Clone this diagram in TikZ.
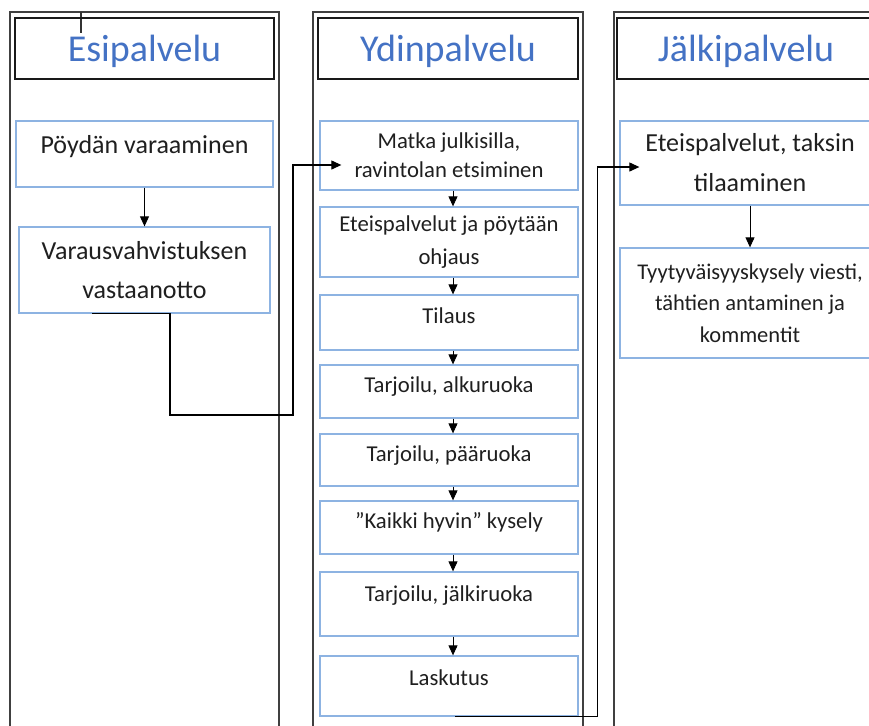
\documentclass[tikz,border=0pt]{standalone}
\usepackage{fontspec}
\setmainfont{Carlito}
\usepackage{xcolor}
\usepackage{tikz}
\usetikzlibrary{positioning, arrows.meta}
\definecolor{otsikkosini}{RGB}{68,114,196}
\definecolor{reunasini}{RGB}{141,179,226}

\begin{document}
\begin{tikzpicture}[
        x=1pt, y=-1pt,
        kehys/.style={draw=black!75, line width=1.6pt},
        otsikko/.style={
                rectangle, draw=black!90, line width=1.2pt,
                minimum height=61pt, inner sep=0pt,
                text=otsikkosini, font=\fontsize{38}{46}\selectfont,
                text height=28.5pt, text depth=2pt
            },
        laatikko/.style={
                rectangle, draw=reunasini, line width=1.3pt,
                align=center, inner sep=0pt,
                text=black!88, font=\fontsize{22.7}{29}\selectfont
            },
        iso/.style={font=\fontsize{26}{39}\selectfont},
        ylos/.style={text height=16pt, text depth=#1}, % teksti laatikon yläosaan
        nuoli/.style={-{Triangle[length=10pt,width=9pt]}, line width=0.9pt}
    ]
    \useasboundingbox (0,0) rectangle (869,725);
    \clip (0,0) rectangle (869,725);

    \draw[kehys] (10,730) |- (279,12) -- (279,730);
    \draw[kehys] (313,730) |- (583,12) -- (583,730);
    \draw[kehys] (614,730) |- (880,12);
    \draw[line width=1.2pt, black!80] (81,12) -- (81,33);

    \node[otsikko, minimum width=259pt] (esi) at (144.5,48.5) {Esipalvelu};
    \node[otsikko, minimum width=260pt] (ydin) at (448,48.5) {Ydinpalvelu};
    \node[otsikko, minimum width=258pt] (jalki) at (746,48.5) {Jälkipalvelu};

    \node[laatikko, iso, ylos=17.4pt, minimum width=257pt, minimum height=66pt] (p1) at (144.5,154) {Pöydän varaaminen};
    \node[laatikko, iso, minimum width=251pt, minimum height=86pt] (p2) at (144.5,270) {Varausvahvistuksen\\vastaanotto};

    \node[laatikko, minimum width=258pt, minimum height=69pt] (m1) at (449,155.5) {Matka julkisilla,\\ravintolan etsiminen};
    \node[laatikko, font=\fontsize{22.7}{33}\selectfont, minimum width=258pt, minimum height=70pt] (m2) at (449,242) {Eteispalvelut ja pöytään\\ohjaus};
    \node[laatikko, ylos=14.4pt, minimum width=258pt, minimum height=55pt] (m3) at (449,322.5) {Tilaus};
    \node[laatikko, ylos=14.4pt, minimum width=258pt, minimum height=53pt] (m4) at (449,391.5) {Tarjoilu, alkuruoka};
    \node[laatikko, ylos=13.4pt, minimum width=258pt, minimum height=52pt] (m5) at (449,460) {Tarjoilu, pääruoka};
    \node[laatikko, ylos=14.4pt, minimum width=258pt, minimum height=53pt] (m6) at (449,527.5) {”Kaikki hyvin” kysely};
    \node[laatikko, ylos=21.4pt, minimum width=258pt, minimum height=64pt] (m7) at (449,604) {Tarjoilu, jälkiruoka};
    \node[laatikko, ylos=17.4pt, minimum width=258pt, minimum height=60pt] (m8) at (449,686) {Laskutus};

    \node[laatikko, font=\fontsize{26}{40}\selectfont, minimum width=260pt, minimum height=84pt] (r1) at (750,163) {Eteispalvelut, taksin\\tilaaminen};
    \node[laatikko, font=\fontsize{22.5}{31.5}\selectfont, minimum width=260pt, minimum height=110pt] (r2) at (750,303) {Tyytyväisyyskysely viesti,\\tähtien antaminen ja\\kommentit};

    \draw[nuoli] (p1) -- (p2);
    \foreach \a/\b in {m1/m2, m2/m3, m3/m4, m4/m5, m5/m6, m6/m7, m7/m8}
        \draw[nuoli] ([xshift=4pt]\a.south) -- ([xshift=4pt]\b.north);
    \draw[nuoli] (r1) -- (r2);

    \draw[nuoli, line width=1.1pt] ([xshift=-52.5pt]p2.south) -- ++(78,0) |- (293,415) |- ([xshift=22pt,yshift=-9.5pt]m1.west);
    \draw[nuoli, line width=1.1pt] ([xshift=6pt]m8.south) -| ([xshift=-22pt,yshift=-4pt]r1.west) -- ([xshift=20pt,yshift=-4pt]r1.west);
\end{tikzpicture}
\end{document}
